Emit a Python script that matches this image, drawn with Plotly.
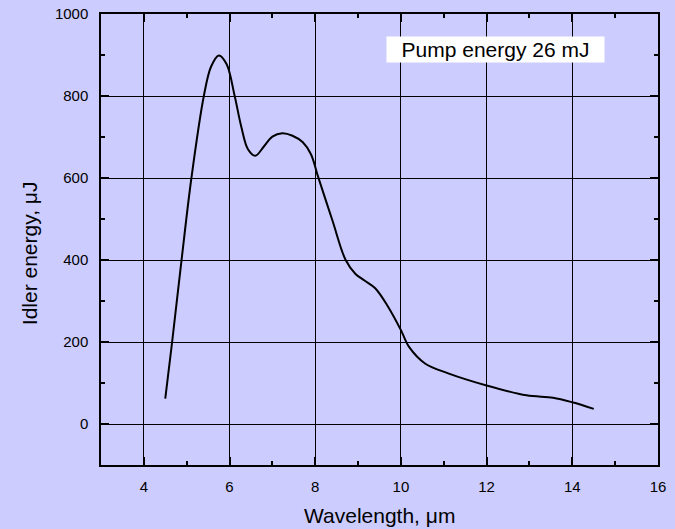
import plotly.graph_objects as go

wavelength = [4.5, 4.66, 4.88, 5.11, 5.40, 5.57, 5.75, 5.93, 6.12, 6.27, 6.43,
              6.60, 6.81, 7.0, 7.23, 7.47, 7.71, 7.90, 8.07, 8.40, 8.71,
              8.94, 9.15, 9.40, 9.70, 10.0, 10.19, 10.57, 11.12, 12.0, 12.93, 13.55, 14.0, 14.5]
energy = [62, 200, 400, 600, 800, 872, 899, 878, 800, 727, 670,
          654, 678, 701, 709, 703, 687, 658, 602, 497, 400,
          366, 350, 331, 286, 229, 188, 147, 123, 94, 70, 64, 53, 37]

x_ticks = [4, 6, 8, 10, 12, 14, 16]
y_ticks = [0, 200, 400, 600, 800, 1000]

bg = "#CCCCFF"
font = "Liberation Sans, Arial, sans-serif"

fig = go.Figure()
fig.add_trace(go.Scatter(x=wavelength, y=energy, mode="lines",
                         line=dict(color="black", width=2, shape="spline", smoothing=1.0),
                         showlegend=False, hoverinfo="skip"))

axis_common = dict(showline=True, linecolor="black", linewidth=1.5, mirror="ticks",
                   ticks="inside", ticklen=8, tickwidth=1.5, tickcolor="black",
                   showgrid=True, gridcolor="black", gridwidth=1, zeroline=False,
                   automargin=False,
                   tickfont=dict(family=font, size=15, color="black"))

fig.update_xaxes(range=[3, 16], tickvals=x_ticks,
                 minor=dict(ticks="inside", ticklen=4, tickwidth=1.5, tickcolor="black",
                            dtick=1, tick0=3, showgrid=False),
                 ticklabelstandoff=7,
                 **axis_common)
fig.update_yaxes(range=[-100, 1000], tickvals=y_ticks,
                 minor=dict(ticks="inside", ticklen=4, tickwidth=1.5, tickcolor="black",
                            dtick=100, tick0=0, showgrid=False),
                 ticklabelstandoff=8,
                 **axis_common)

# axis titles
fig.add_annotation(x=0.5, y=-0.113, xref="paper", yref="paper", text="Wavelength, \u03bcm",
                   showarrow=False, xanchor="center", yanchor="middle",
                   font=dict(family=font, size=21, color="black"))
fig.add_annotation(x=-0.129, y=0.47, xref="paper", yref="paper", text="Idler energy, \u03bcJ",
                   showarrow=False, xanchor="center", yanchor="middle", textangle=-90,
                   font=dict(family=font, size=21, color="black"))

fig.add_annotation(x=12.2, y=914, xref="x", yref="y", text="Pump energy 26 mJ",
                   showarrow=False, bgcolor="white", width=215, height=23,
                   font=dict(family=font, size=21, color="black"))

fig.update_layout(width=675, height=529, paper_bgcolor=bg, plot_bgcolor=bg,
                  margin=dict(l=101, r=17, t=14, b=64, autoexpand=False),
                  font=dict(family=font, color="black"))

fig.write_html("out.html")
